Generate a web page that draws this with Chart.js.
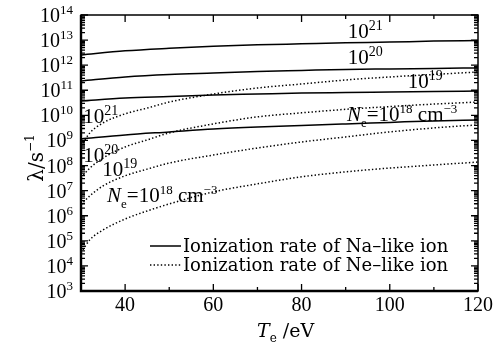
<!DOCTYPE html>
<html>
<head>
<meta charset="utf-8">
<script src="https://cdn.jsdelivr.net/npm/chart.js@4.4.1/dist/chart.umd.min.js"></script>
<style>
  html, body { margin: 0; padding: 0; background: #fff; }
</style>
</head>
<body>
<canvas id="chart" width="493" height="344"></canvas>
<script>
// temperatures (eV)
const tempsNa = [30, 40, 50, 60, 70, 80, 90, 100, 110, 120];
const tempsNe = [30, 32, 35, 40, 45, 50, 60, 70, 80, 90, 100, 110, 120];

// Na-like ionization rate (s^-1), Ne = 1e21 .. 1e18 cm^-3
const na21 = [2.57e12, 3.72e12, 4.68e12, 5.62e12, 6.46e12, 7.08e12, 7.76e12, 8.32e12, 9.12e12, 9.55e12];
const na20 = [2.34e11, 3.39e11, 4.27e11, 4.90e11, 5.62e11, 6.17e11, 6.76e11, 7.08e11, 7.41e11, 7.76e11];
const na19 = [3.72e10, 4.90e10, 5.62e10, 6.46e10, 7.08e10, 7.76e10, 8.13e10, 8.51e10, 8.91e10, 9.33e10];
const na18 = [1.15e9, 1.66e9, 2.19e9, 2.88e9, 3.47e9, 3.98e9, 4.57e9, 5.25e9, 6.03e9, 6.61e9];

// Ne-like ionization rate (s^-1)
const ne21 = [6.0e8, 2.0e9, 5.0e9, 1.15e10, 1.95e10, 3.39e10, 7.08e10, 1.23e11, 1.78e11, 2.57e11, 3.39e11, 4.27e11, 5.37e11];
const ne20 = [3.24e7, 7.94e7, 2.0e8, 5.5e8, 1.05e9, 2.0e9, 4.57e9, 8.7e9, 1.26e10, 1.74e10, 2.24e10, 2.82e10, 3.39e10];
const ne19 = [2.7e6, 6.2e6, 1.55e7, 3.9e7, 7.2e7, 1.26e8, 2.63e8, 5.0e8, 8.7e8, 1.38e9, 2.19e9, 3.16e9, 4.17e9];
const ne18 = [3.3e4, 1.1e5, 2.7e5, 7.4e5, 1.55e6, 2.95e6, 8.9e6, 1.86e7, 3.55e7, 5.6e7, 7.94e7, 1.05e8, 1.38e8];

const xTicks = [40, 60, 80, 100, 120];
const xMinor = [50, 70, 90, 110];
const yDecades = [3, 4, 5, 6, 7, 8, 9, 10, 11, 12, 13, 14];
const legendLabels = ['Ionization rate of Na\u2013like ion', 'Ionization rate of Ne\u2013like ion'];

const FONT = '"Liberation Serif", "DejaVu Serif", serif';
const WIDE = '"DejaVu Serif", serif';

function pts(xs, ys) {
  return xs.map((x, i) => ({ x: x, y: ys[i] }));
}

function naSet(vals) {
  return { data: pts(tempsNa, vals), borderColor: '#000', borderWidth: 1.5, pointRadius: 0, tension: 0.4, cubicInterpolationMode: 'monotone' };
}
function neSet(vals) {
  return { data: pts(tempsNe, vals), borderColor: '#000', borderWidth: 1.5, borderDash: [1.4, 2.2], pointRadius: 0, tension: 0.4, cubicInterpolationMode: 'monotone' };
}

// draw a run of text pieces: [text, size, dy, italic, family]
function rich(ctx, x, y, parts, align) {
  const f = p => (p[3] ? 'italic ' : '') + p[1] + 'px ' + (p[4] || FONT);
  let w = 0;
  parts.forEach(p => {
    ctx.font = f(p);
    w += ctx.measureText(p[0]).width;
  });
  let cx = align === 'right' ? x - w : (align === 'center' ? x - w / 2 : x);
  parts.forEach(p => {
    ctx.font = f(p);
    ctx.fillText(p[0], cx, y + (p[2] || 0));
    cx += ctx.measureText(p[0]).width;
  });
}

function pow10(e, size) {
  return [['10', size, 0], [String(e), Math.round(size * 0.65), -size * 0.4]];
}

// curve labels, placed in data coordinates (T, rate) = left / middle of the text
const curveLabels = [
  { T: 90.5, v: 2.3e13, parts: pow10(21, 21) },
  { T: 90.5, v: 2.1e12, parts: pow10(20, 21) },
  { T: 104.1, v: 2.3e11, parts: pow10(19, 21) },
  { T: 30.5, v: 9.5e9, parts: pow10(21, 21) },
  { T: 30.5, v: 2.6e8, parts: pow10(20, 21) },
  { T: 34.8, v: 7.2e7, parts: pow10(19, 21) }
];
const neLabels = [
  { T: 90.3, v: 1.15e10 },
  { T: 35.9, v: 6.8e6 }
];

const decor = {
  id: 'decor',
  afterDraw(chart) {
    const ctx = chart.ctx;
    const a = chart.chartArea;
    const xs = chart.scales.x, ys = chart.scales.y;
    ctx.save();
    ctx.fillStyle = '#000';
    ctx.strokeStyle = '#000';
    ctx.textBaseline = 'alphabetic';

    // frame
    ctx.lineWidth = 1.5;
    ctx.strokeRect(a.left, a.top, a.right - a.left, a.bottom - a.top);
    ctx.lineWidth = 2.4;
    ctx.beginPath();
    ctx.moveTo(a.left, a.top); ctx.lineTo(a.left, a.bottom); ctx.lineTo(a.right, a.bottom);
    ctx.stroke();

    // y ticks both sides
    ctx.lineWidth = 1.3;
    yDecades.forEach(d => {
      for (let k = 1; k <= 9; k++) {
        if (d === 14 && k > 1) break;
        const py = ys.getPixelForValue(k * Math.pow(10, d));
        const len = k === 1 ? 7 : 4;
        ctx.beginPath();
        ctx.moveTo(a.left, py); ctx.lineTo(a.left + len, py);
        ctx.moveTo(a.right, py); ctx.lineTo(a.right - len, py);
        ctx.stroke();
      }
    });
    // x ticks top and bottom
    xTicks.concat(xMinor).forEach(t => {
      const px = xs.getPixelForValue(t);
      const len = xTicks.includes(t) ? 7 : 4;
      ctx.beginPath();
      ctx.moveTo(px, a.bottom); ctx.lineTo(px, a.bottom - len);
      ctx.moveTo(px, a.top); ctx.lineTo(px, a.top + len);
      ctx.stroke();
    });

    // y tick labels
    yDecades.forEach(d => {
      const py = ys.getPixelForValue(Math.pow(10, d));
      rich(ctx, a.left - 8, py + 7, pow10(d, 20), 'right');
    });
    // x tick labels
    ctx.font = '20px ' + FONT;
    ctx.textAlign = 'center';
    xTicks.forEach(t => {
      ctx.fillText(String(t), xs.getPixelForValue(t), a.bottom + 20);
    });
    ctx.textAlign = 'left';

    // axis titles
    rich(ctx, 257, 337, [['T', 19, 0, true, WIDE], ['e', 12, 5, false, WIDE], [' /eV', 19, 0, false, WIDE]], 'left');
    ctx.save();
    ctx.translate(43, 158);
    ctx.rotate(-Math.PI / 2);
    rich(ctx, 0, 0, [['\u03bb/s', 20, 0, false, WIDE], ['\u22121', 12, -9, false, WIDE]], 'center');
    ctx.restore();

    // curve labels
    curveLabels.forEach(l => {
      rich(ctx, xs.getPixelForValue(l.T), ys.getPixelForValue(l.v) + 7, l.parts, 'left');
    });
    neLabels.forEach(l => {
      rich(ctx, xs.getPixelForValue(l.T), ys.getPixelForValue(l.v) + 7,
        [['N', 21, 0, true], ['e', 13, 6], ['=10', 21, 0], ['18', 13, -8], [' cm', 21, 0], ['\u22123', 13, -8]], 'left');
    });

    // legend
    const lx = 150, ly = [246, 265];
    ctx.lineWidth = 1.5;
    ctx.beginPath();
    ctx.moveTo(lx, ly[0]); ctx.lineTo(lx + 31, ly[0]);
    ctx.stroke();
    ctx.setLineDash([1.4, 2.2]);
    ctx.beginPath();
    ctx.moveTo(lx, ly[1]); ctx.lineTo(lx + 31, ly[1]);
    ctx.stroke();
    ctx.setLineDash([]);
    ctx.font = '18px ' + WIDE;
    legendLabels.forEach((t, i) => ctx.fillText(t, lx + 33, ly[i] + 6));

    ctx.restore();
  }
};

new Chart(document.getElementById('chart'), {
  type: 'line',
  data: {
    datasets: [naSet(na21), naSet(na20), naSet(na19), naSet(na18),
               neSet(ne21), neSet(ne20), neSet(ne19), neSet(ne18)]
  },
  options: {
    responsive: false,
    animation: false,
    devicePixelRatio: 1,
    layout: { padding: { top: 15, right: 15, left: 0, bottom: 0 } },
    plugins: { legend: { display: false }, tooltip: { enabled: false } },
    scales: {
      x: {
        type: 'linear', min: 30, max: 120,
        grid: { display: false }, border: { display: false },
        ticks: { display: false },
        afterFit(s) { s.height = 53; }
      },
      y: {
        type: 'logarithmic', min: 1e3, max: 1e14,
        grid: { display: false }, border: { display: false },
        ticks: { display: false },
        afterFit(s) { s.width = 81; }
      }
    }
  },
  plugins: [decor]
});
</script>
</body>
</html>
